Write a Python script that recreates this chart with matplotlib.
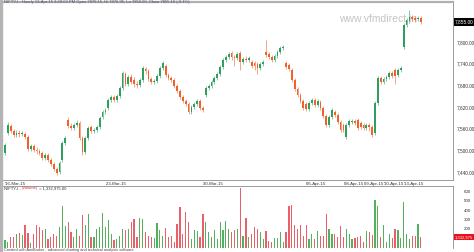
import numpy as np
import matplotlib
matplotlib.use("Agg")
import matplotlib.pyplot as plt
from matplotlib.patches import Rectangle

plt.rcParams['font.family'] = ['Liberation Sans', 'DejaVu Sans']

opens = [7493, 7548, 7567, 7554, 7542, 7548, 7545, 7545, 7537, 7504, 7512, 7501, 7498, 7493, 7479, 7487, 7473, 7462, 7448, 7440,
         7473, 7520, 7584, 7567, 7562, 7570, 7576, 7534, 7495, 7534, 7565, 7554, 7556, 7565, 7592, 7606, 7617, 7639, 7648, 7639,
         7650, 7673, 7711, 7684, 7703, 7695, 7684, 7681, 7695, 7725, 7720, 7698, 7689, 7692, 7706, 7728, 7734, 7709, 7700, 7695,
         7678, 7664, 7648, 7637, 7628, 7606, 7620, 7628, 7637, 7617, 7653, 7673, 7678, 7689, 7700, 7711, 7731, 7750, 7758, 7770,
         7758, 7756, 7770, 7745, 7753, 7750, 7745, 7742, 7739, 7728, 7739, 7772, 7767, 7758, 7750, 7761, 7772, 7783, 7742, 7736,
         7722, 7695, 7670, 7653, 7637, 7628, 7614, 7631, 7639, 7626, 7634, 7617, 7595, 7570, 7592, 7606, 7598, 7578, 7570, 7537,
         7570, 7578, 7581, 7584, 7576, 7570, 7562, 7570, 7565, 7548, 7631, 7700, 7689, 7698, 7703, 7714, 7722, 7709, 7722, 7786,
         7847, 7858, 7869, 7866, 7864, 7866]
closes = [7515, 7570, 7554, 7542, 7548, 7545, 7548, 7537, 7504, 7512, 7501, 7498, 7493, 7479, 7487, 7473, 7462, 7448, 7437, 7465,
          7520, 7534, 7567, 7562, 7570, 7576, 7534, 7495, 7534, 7562, 7554, 7556, 7565, 7590, 7606, 7612, 7639, 7648, 7639, 7650,
          7673, 7714, 7684, 7703, 7689, 7684, 7681, 7695, 7728, 7720, 7698, 7689, 7692, 7706, 7728, 7742, 7709, 7700, 7695, 7678,
          7664, 7648, 7637, 7628, 7606, 7620, 7628, 7637, 7617, 7612, 7673, 7678, 7689, 7700, 7711, 7731, 7750, 7758, 7767, 7758,
          7756, 7767, 7745, 7753, 7750, 7756, 7734, 7734, 7728, 7739, 7745, 7764, 7758, 7750, 7761, 7772, 7783, 7786, 7731, 7725,
          7695, 7670, 7653, 7637, 7617, 7614, 7631, 7639, 7626, 7637, 7617, 7595, 7570, 7592, 7612, 7598, 7578, 7556, 7556, 7570,
          7581, 7581, 7576, 7562, 7565, 7562, 7570, 7565, 7542, 7631, 7700, 7689, 7698, 7703, 7714, 7706, 7706, 7722, 7728, 7847,
          7861, 7869, 7864, 7861, 7866, 7855]
highs = [7520, 7578, 7573, 7559, 7556, 7556, 7554, 7551, 7542, 7518, 7518, 7509, 7504, 7498, 7493, 7493, 7479, 7468, 7454, 7470,
         7526, 7540, 7592, 7576, 7576, 7584, 7581, 7540, 7540, 7567, 7570, 7562, 7570, 7595, 7612, 7617, 7645, 7653, 7653, 7656,
         7678, 7720, 7717, 7709, 7711, 7703, 7692, 7700, 7734, 7731, 7725, 7703, 7698, 7711, 7734, 7747, 7739, 7714, 7706, 7700,
         7684, 7670, 7653, 7642, 7634, 7626, 7634, 7642, 7642, 7623, 7678, 7684, 7695, 7706, 7717, 7736, 7756, 7764, 7772, 7775,
         7764, 7772, 7775, 7758, 7761, 7761, 7750, 7747, 7745, 7745, 7750, 7806, 7772, 7764, 7767, 7778, 7789, 7792, 7747, 7742,
         7728, 7700, 7675, 7659, 7642, 7634, 7637, 7645, 7645, 7642, 7639, 7623, 7601, 7598, 7617, 7612, 7603, 7584, 7576, 7576,
         7587, 7587, 7587, 7590, 7581, 7576, 7576, 7576, 7570, 7637, 7706, 7706, 7703, 7709, 7720, 7720, 7728, 7728, 7734, 7853,
         7866, 7889, 7875, 7872, 7872, 7872]
lows = [7487, 7542, 7548, 7537, 7537, 7537, 7540, 7531, 7498, 7498, 7495, 7490, 7487, 7473, 7473, 7468, 7457, 7443, 7432, 7434,
        7468, 7515, 7562, 7556, 7556, 7565, 7529, 7487, 7490, 7529, 7548, 7548, 7551, 7559, 7587, 7601, 7612, 7634, 7634, 7634,
        7645, 7667, 7678, 7678, 7684, 7675, 7673, 7675, 7689, 7711, 7692, 7684, 7684, 7686, 7700, 7722, 7703, 7695, 7689, 7673,
        7659, 7642, 7631, 7623, 7601, 7601, 7614, 7623, 7612, 7606, 7648, 7667, 7673, 7684, 7695, 7706, 7725, 7745, 7753, 7750,
        7734, 7750, 7722, 7739, 7745, 7745, 7728, 7722, 7711, 7722, 7734, 7758, 7753, 7745, 7745, 7756, 7767, 7778, 7725, 7720,
        7689, 7664, 7648, 7631, 7612, 7609, 7609, 7626, 7620, 7620, 7612, 7590, 7565, 7565, 7587, 7592, 7573, 7551, 7551, 7531,
        7565, 7573, 7570, 7556, 7559, 7556, 7556, 7554, 7537, 7542, 7626, 7684, 7684, 7692, 7698, 7700, 7684, 7703, 7717, 7781,
        7842, 7853, 7858, 7855, 7858, 7850]
volumes = [82, 63, 111, 117, 147, 158, 130, 237, 158, 49, 150, 237, 219, 183, 201, 95, 117, 147, 120, 219, 443,
           226, 274, 165, 111, 201, 128, 353,
           237, 364, 111, 111, 201, 219, 375, 219, 291, 147, 85, 92, 128, 201, 183, 194, 274, 310, 111, 317,
           310, 165, 128, 111, 100, 263, 183, 128, 209, 111, 128, 56, 255, 437,
           147, 383, 274, 92, 183, 172, 111, 364, 274, 165, 111, 183, 92, 274, 183, 280, 201, 165, 183, 194, 636,
           128, 317, 111, 147, 219, 201, 165, 92, 172, 74, 56, 100, 100, 165, 56, 165, 447,
           462, 237, 201, 245, 128, 237, 92, 147, 92, 172, 128, 128, 364, 194, 147, 140, 111, 230, 111, 201,
           147, 92, 100, 111, 128, 63, 172, 165, 136, 509,
           444, 111, 245, 56, 147, 100, 201, 183, 100, 491,
           147, 92, 128, 128, 255, 111]

price_ticks = [7440, 7500, 7560, 7620, 7680, 7740, 7800]
price_tick_labels = ["7,440.00", "7,500.00", "7,560.00", "7,620.00", "7,680.00", "7,740.00", "7,800.00"]
vol_ticks = [200, 300, 400, 500, 600]
vol_tick_labels = ["200", "300", "400", "500", "600"]
date_pos = [0, 35, 69, 105, 118, 125, 132, 139]
date_labels = ["'16-Mar-15", "'23-Mar-15", "'30-Mar-15", "'06-Apr-15", "'08-Apr-15", "'09-Apr-15", "'10-Apr-15", "'13-Apr-15"]
title_text = "NIFTY-I - Hourly 13-Apr-15 3:29:00 PM Open 7870.15, Hi 7876.95, Lo 7850.00, Close 7855.10 (-0.1%)"
last_price_label = "7,855.00"
last_volume_label = "1,332,975"
vol_title = ["NIFTY-I - ", "(Volume)", " = 1,332,975.00"]
footer = "Created with AmiBroker - advanced charting and technical analysis software"

W, H = 474, 252
fig = plt.figure(figsize=(W / 100, H / 100), dpi=100)
fig.patch.set_facecolor('white')


def box(x0, y0, x1, y1):
    return [x0 / W, 1 - y1 / H, (x1 - x0) / W, (y1 - y0) / H]


axp = fig.add_axes(box(3, 2, 453, 180))
axv = fig.add_axes(box(3, 186, 453, 247.5))

o = np.array(opens, float)
c = np.array(closes, float)
idx = np.arange(len(c))
up = c >= o
GREEN, RED = '#2f9e5f', '#f0622a'
VGREEN, VRED = '#55b05e', '#e8606a'
cols = np.where(up, GREEN, RED)

axp.text(378 / W, 1 - 19.5 / H, "www.vfmdirect.in", transform=fig.transFigure,
         color='#c4c4c4', fontsize=7.5, ha='center', va='center', zorder=0)
axp.vlines(idx, lows, highs, colors=cols, linewidth=0.5, alpha=0.8, zorder=2)
axp.bar(idx, c - o, bottom=o, width=0.62, color=cols, linewidth=0, zorder=3)
axp.set_xlim(-0.7, 156.2)
axp.set_ylim(7417.8, 7910.8)

axp.yaxis.tick_right()
axp.set_yticks(price_ticks)
axp.set_yticklabels(price_tick_labels)
axp.tick_params(axis='y', length=0, pad=3, labelsize=3.4, labelcolor='#333333')
axp.set_xticks(date_pos)
axp.set_xticklabels(date_labels)
axp.tick_params(axis='x', length=0, pad=1.2, labelsize=3.2, labelcolor='#333333')
for lab in axp.get_xticklabels():
    lab.set_ha('left')

for ax in (axp, axv):
    for s in ax.spines.values():
        s.set_color('#8c8c8c')
        s.set_linewidth(0.6)
    ax.spines['left'].set_visible(False)
    ax.set_facecolor('white')
axp.spines['top'].set_color('#b0b0b0')
axp.spines['top'].set_linewidth(1.6)
axv.spines['bottom'].set_visible(False)

axv.bar(idx, volumes, width=0.42, color=np.where(up, VGREEN, VRED), linewidth=0)
axv.set_xlim(-0.7, 156.2)
axv.set_ylim(0, 661)
axv.set_xticks([])
axv.yaxis.tick_right()
axv.set_yticks(vol_ticks)
axv.set_yticklabels(vol_tick_labels)
axv.tick_params(axis='y', length=0, pad=8, labelsize=3.2, labelcolor='#333333')

# current price / volume boxes
axp.text(1.004, closes[-1], last_price_label, transform=axp.get_yaxis_transform(),
         fontsize=3.4, color='white', ha='left', va='center',
         bbox=dict(boxstyle='square,pad=0.25', fc='black', ec='none'))
axv.text(1.004, volumes[-1], last_volume_label, transform=axv.get_yaxis_transform(),
         fontsize=3.0, color='white', ha='left', va='center',
         bbox=dict(boxstyle='square,pad=0.25', fc='#e8101a', ec='none'))

# left grey strip
fig.patches.append(Rectangle((0, 0), 2 / W, 1, transform=fig.transFigure, color='#b4b4b4', zorder=5))

fig.text(4 / W, 1 - 2.5 / H, title_text, fontsize=3.0, color='#5a4a6a', ha='left', va='center')
fig.text(4 / W, 1 - 188.5 / H, vol_title[0], fontsize=3.0, color='#333333', ha='left', va='center')
fig.text(22 / W, 1 - 188.5 / H, vol_title[1], fontsize=3.0, color='#e0303a', ha='left', va='center')
fig.text(38 / W, 1 - 188.5 / H, vol_title[2], fontsize=3.0, color='#333333', ha='left', va='center')
fig.text(4 / W, 1 - 250 / H, footer, fontsize=2.8, color='#444444', ha='left', va='center')

fig.savefig("out.png", dpi=100)
